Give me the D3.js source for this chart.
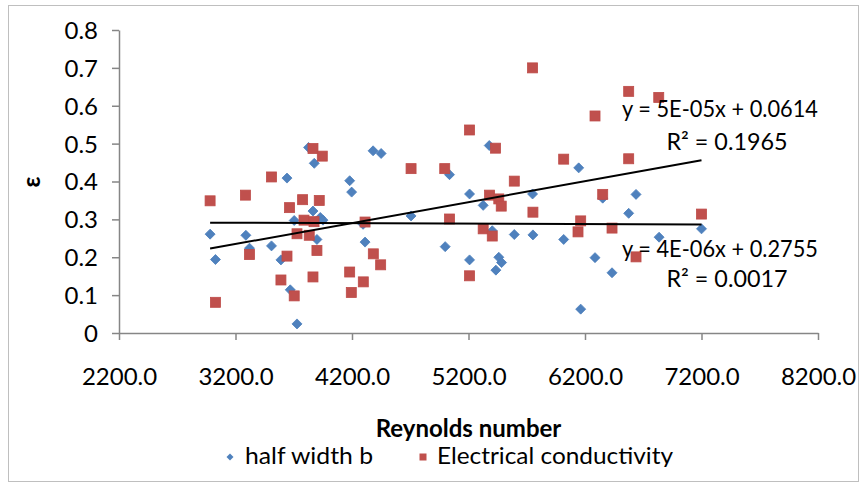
<!DOCTYPE html>
<html>
<head>
<meta charset="utf-8">
<script src="https://cdn.jsdelivr.net/npm/d3@7"></script>
<style>
  html, body { margin: 0; padding: 0; background: #fff; }
  svg text { font-family: Lato, "Open Sans", sans-serif; fill: #000; }
</style>
</head>
<body>
<svg id="chart" width="866" height="485"></svg>
<script>
// ---- Data ----
const halfWidthRe = [2982,3028,3289,3320,3509,3590,3642,3670,3704,3728,3827,3865,3876,3899,3928,3951,4180,4197,4295,4312,4381,4450,4707,5000,5037,5209,5209,5326,5378,5404,5435,5460,5484,5593,5750,5753,6017,6146,6163,6286,6352,6432,6575,6638,6836,7200];
const halfWidthEps = [0.261,0.194,0.258,0.224,0.230,0.193,0.409,0.114,0.297,0.024,0.490,0.322,0.448,0.247,0.305,0.298,0.402,0.372,0.287,0.240,0.481,0.474,0.309,0.228,0.418,0.367,0.193,0.337,0.495,0.270,0.166,0.200,0.186,0.260,0.367,0.259,0.247,0.436,0.063,0.199,0.356,0.159,0.316,0.366,0.253,0.275];
const condRe = [2982,3028,3285,3320,3509,3590,3642,3664,3704,3728,3776,3788,3833,3865,3865,3874,3899,3919,3945,4180,4194,4297,4312,4383,4446,4707,4996,5037,5209,5209,5326,5381,5404,5432,5460,5481,5593,5750,5753,6017,6140,6163,6286,6352,6432,6575,6575,6638,6833,7200];
const condEps = [0.349,0.081,0.364,0.207,0.412,0.140,0.203,0.331,0.098,0.262,0.352,0.298,0.258,0.487,0.148,0.294,0.218,0.350,0.467,0.161,0.107,0.135,0.293,0.209,0.180,0.434,0.434,0.301,0.536,0.151,0.275,0.364,0.256,0.488,0.354,0.335,0.401,0.700,0.319,0.459,0.267,0.296,0.573,0.366,0.277,0.638,0.460,0.201,0.622,0.314];
const xTicks = [2200,3200,4200,5200,6200,7200,8200];
const yTicks = [0,0.1,0.2,0.3,0.4,0.5,0.6,0.7,0.8];
const seriesNames = ["half width b","Electrical conductivity"];
const eqHalfWidth = ["y = 4E-06x + 0.2755","R² = 0.0017"];
const eqCond = ["y = 5E-05x + 0.0614","R² = 0.1965"];
const xTitle = "Reynolds number";
const yTitle = "ε";

// ---- Layout ----
const svg = d3.select("#chart");
const L = 119, R = 818, T = 30, B = 333;
const x = d3.scaleLinear().domain([2200,8200]).range([L,R]);
const y = d3.scaleLinear().domain([0,0.8]).range([B,T]);
const blue = "#4F81BD", blueStroke = "#4A7EBB", red = "#C0504D", redStroke = "#BE4B48";
const axisColor = "#868686";
const FS = 24;

// chart border
svg.append("rect").attr("x",8.5).attr("y",5.5).attr("width",850).attr("height",476)
  .attr("fill","#fff").attr("stroke","#bfbfbf").attr("stroke-width",1);

// axes
const xAxis = svg.append("g").attr("transform",`translate(0,${B})`)
  .call(d3.axisBottom(x).tickValues(xTicks).tickFormat(d3.format(".1f")).tickSize(7).tickSizeOuter(0));
xAxis.select(".domain").attr("stroke",axisColor).attr("stroke-width",1.5);
xAxis.selectAll(".tick line").attr("stroke",axisColor).attr("stroke-width",1.5);
xAxis.selectAll(".tick text").attr("font-size",FS).attr("dy",null).attr("y",52)
  .style("font-family","Lato, sans-serif").attr("fill","#000");

const yAxis = svg.append("g").attr("transform",`translate(${L},0)`)
  .call(d3.axisLeft(y).tickValues(yTicks).tickFormat(d => d === 0 ? "0" : d3.format(".1f")(d)).tickSize(7).tickSizeOuter(0));
yAxis.select(".domain").attr("stroke",axisColor).attr("stroke-width",1.5);
yAxis.selectAll(".tick line").attr("stroke",axisColor).attr("stroke-width",1.5);
yAxis.selectAll(".tick text").attr("font-size",FS).attr("x",-21).attr("dy","0.35em")
  .style("font-family","Lato, sans-serif").attr("fill","#000");

// titles
svg.append("text").attr("x",(L+R)/2).attr("y",437).attr("text-anchor","middle")
  .attr("font-size",FS).attr("font-weight","bold").text(xTitle);
svg.append("text").attr("transform","translate(40,182) rotate(-90)").attr("text-anchor","middle")
  .attr("font-size",FS).attr("font-weight","bold").text(yTitle);

// markers
const diamond = s => `M0,${-s}L${s},0L0,${s}L${-s},0Z`;
const halfData = halfWidthRe.map((r,i)=>({r, e: halfWidthEps[i]}));
const condData = condRe.map((r,i)=>({r, e: condEps[i]}));

svg.append("g").selectAll("path").data(halfData).join("path")
  .attr("d", diamond(5)).attr("transform", d=>`translate(${x(d.r)},${y(d.e)})`)
  .attr("fill",blue).attr("stroke",blueStroke).attr("stroke-width",0.8);
svg.append("g").selectAll("rect").data(condData).join("rect")
  .attr("x", d=>x(d.r)-5).attr("y", d=>y(d.e)-5).attr("width",10).attr("height",10)
  .attr("fill",red).attr("stroke",redStroke).attr("stroke-width",0.8);

// trend lines (least squares)
function fit(xs, ys){
  const n = xs.length, mx = d3.mean(xs), my = d3.mean(ys);
  let sxy=0, sxx=0; for(let i=0;i<n;i++){ sxy+=(xs[i]-mx)*(ys[i]-my); sxx+=(xs[i]-mx)**2; }
  const m = sxy/sxx; return {m, b: my - m*mx, x0: d3.min(xs), x1: d3.max(xs)};
}
[fit(halfWidthRe, halfWidthEps), fit(condRe, condEps)].forEach(f=>{
  svg.append("line").attr("x1",x(f.x0)).attr("y1",y(f.m*f.x0+f.b))
    .attr("x2",x(f.x1)).attr("y2",y(f.m*f.x1+f.b))
    .attr("stroke","#000").attr("stroke-width",2);
});

// equations
const eq = svg.append("g").attr("font-size",FS).attr("text-anchor","middle");
eq.append("text").attr("x",720).attr("y",117).attr("textLength",196).attr("lengthAdjust","spacingAndGlyphs").text(eqCond[0]);
eq.append("text").attr("x",727).attr("y",150).attr("textLength",121).attr("lengthAdjust","spacingAndGlyphs").text(eqCond[1]);
eq.append("text").attr("x",720).attr("y",257).attr("textLength",196).attr("lengthAdjust","spacingAndGlyphs").text(eqHalfWidth[0]);
eq.append("text").attr("x",727).attr("y",287).attr("textLength",121).attr("lengthAdjust","spacingAndGlyphs").text(eqHalfWidth[1]);

// legend (clipped at bottom like the reference)
svg.append("clipPath").attr("id","legclip").append("rect").attr("x",0).attr("y",440).attr("width",866).attr("height",27);
const leg = svg.append("g").attr("clip-path","url(#legclip)").attr("font-size",FS);
leg.append("path").attr("d",diamond(3.5)).attr("transform","translate(230,457)").attr("fill",blue);
leg.append("text").attr("x",245).attr("y",464).attr("textLength",128).attr("lengthAdjust","spacingAndGlyphs").text(seriesNames[0]);
leg.append("rect").attr("x",419.5).attr("y",453.5).attr("width",7).attr("height",7).attr("fill",red);
leg.append("text").attr("x",437).attr("y",464).attr("textLength",236).attr("lengthAdjust","spacingAndGlyphs").text(seriesNames[1]);
</script>
</body>
</html>
